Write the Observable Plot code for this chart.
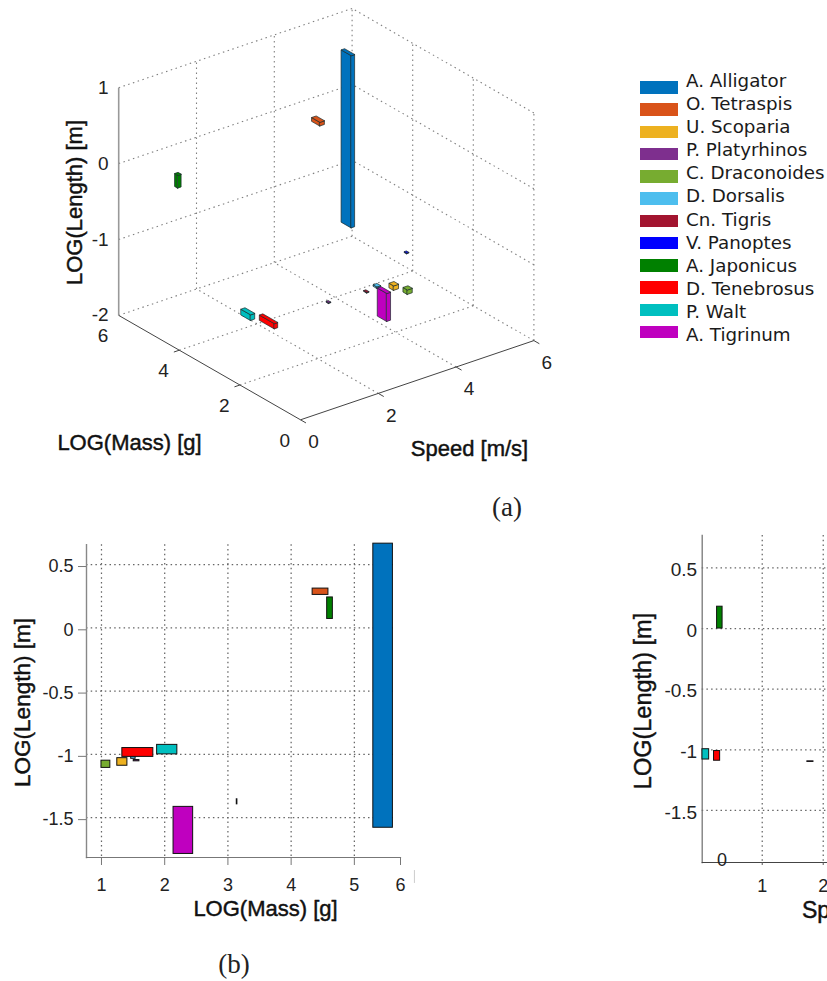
<!DOCTYPE html>
<html><head><meta charset="utf-8">
<script src="https://cdn.jsdelivr.net/npm/d3@7"></script>
<script src="https://cdn.jsdelivr.net/npm/@observablehq/plot@0.6"></script>
<style>
html,body{margin:0;padding:0;background:#fff;overflow:hidden}
#page{position:relative;width:827px;height:981px;overflow:hidden;color:#111}
#page svg{position:absolute;background:transparent}
.sw{position:absolute;left:639.5px;width:38px;height:12.5px}
.lg{position:absolute;left:686px;font:18.3px "DejaVu Sans";line-height:20px;white-space:nowrap;color:#1a1a1a}
.cap{position:absolute;font:27px "Liberation Serif";color:#222;transform:translate(-50%,-50%)}
</style></head><body><div id="page"></div>
<script>
const species = ["A. Alligator","O. Tetraspis","U. Scoparia","P. Platyrhinos","C. Draconoides","D. Dorsalis","Cn. Tigris","V. Panoptes","A. Japonicus","D. Tenebrosus","P. Walt","A. Tigrinum"];
const colors = ["#0072BD","#D95319","#EDB120","#7E2F8E","#77AC30","#4DBEEE","#A2142F","#0000FF","#008000","#FF0000","#00BFBF","#BF00BF"];

// Panel (a): 3D boxes
const massLow   = [5.16,4.18,1.04,1.39,0.78,1.21,1.30,3.05,4.39,0.92,1.46,1.92];
const massHigh  = [5.49,4.45,1.19,1.47,0.92,1.33,1.40,3.13,4.49,1.41,1.78,2.23];
const speedLow  = [5.32,3.75,3.20,1.80,3.35,2.90,2.71,5.10,0.26,0.04,-0.15,3.71];
const speedHigh = [5.41,3.87,3.33,1.86,3.48,3.00,2.77,5.16,0.35,0.13,-0.04,3.81];
const lengthLow = [-1.58,0.26,-1.09,-1.10,-1.11,-1.05,-1.10,-1.40,0.00,-1.02,-1.00,-1.79];
const lengthHigh= [0.69,0.31,-1.03,-1.09,-1.05,-1.03,-1.09,-1.39,0.17,-0.95,-0.925,-1.42];

const bMassLow   = [5.30,4.34,1.25,1.51,1.00,1.47,null,3.14,4.57,1.33,1.88,2.14];
const bMassHigh  = [5.61,4.59,1.41,1.60,1.14,1.54,null,3.15,4.66,1.82,2.20,2.45];
const bLengthLow = [-1.58,0.26,-1.09,-1.055,-1.107,-1.035,null,-1.395,0.07,-1.02,-1.00,-1.787];
const bLengthHigh= [0.665,0.31,-1.03,-1.045,-1.05,-1.01,null,-1.355,0.24,-0.95,-0.925,-1.415];

// Panel (c): speed vs length, only the part inside the crop
const cSpecies   = ["A. Japonicus","D. Tenebrosus","P. Walt","P. Platyrhinos"];
const cSpeedLow  = [0.26,0.21,0.02,1.74];
const cSpeedHigh = [0.35,0.31,0.13,1.84];
const cLengthLow = [0,-1.09,-1.08,-1.10];
const cLengthHigh= [0.18,-1.01,-0.995,-1.095];

const spaceTicks = [0,2,4,6];
const lengthTicks = [-2,-1,0,1];
const bLengthTicks = [-1.5,-1,-0.5,0,0.5];
const bMassTicks = [1,2,3,4,5,5.73];       // the picture's last tick sits at the cropped axis end
const bMassTickLabels = ["1","2","3","4","5","6"];
const cSpeedTicks = [1,2];

const sansFont = "Liberation Sans";
const grid3dStyle = {stroke:"#808080",strokeWidth:1.1,strokeDasharray:"1.5,3.5"};
const gridStyle = {stroke:"#666",strokeWidth:1.25,strokeDasharray:"1.5,3.2"};
const labelStyle = {fontSize:22,fontFamily:sansFont,fill:"#111",stroke:"#111",strokeWidth:0.45};
const page = document.getElementById("page");
const colorOf = Object.fromEntries(species.map((s,i)=>[s,colors[i]]));

// ---------- oblique projection for panel (a)
const P = (m,s,l)=>({x: 38.9*s-30.3*m, y: 13.2*s+17.4*m+75.9*(l+2)});
const seg = (a,b)=>{const p=P(...a),q=P(...b);return {x1:p.x,y1:p.y,x2:q.x,y2:q.y};};

const grid3d = [];
for (const s of [2,4,6]) grid3d.push(seg([0,s,-2],[6,s,-2]));
for (const m of [2,4,6]) grid3d.push(seg([m,0,-2],[m,6,-2]));
for (const s of [2,4,6]) grid3d.push(seg([6,s,-2],[6,s,1]));
for (const m of [0,2,4]) grid3d.push(seg([m,6,-2],[m,6,1]));
for (const l of [-1,0,1]) { grid3d.push(seg([6,0,l],[6,6,l])); grid3d.push(seg([0,6,l],[6,6,l])); }
const axes3d = [seg([0,0,-2],[0,6,-2]), seg([0,0,-2],[6,0,-2])];
const ticks3d = [
  ...[0,2,4,6].map(s=>seg([0,s,-2],[-0.18,s,-2])),
  ...[2,4].map(m=>seg([m,0,-2],[m,-0.14,-2]))
];
const faces=[];
species.forEach((sp,i)=>{
  const [m0,m1,s0,s1,l0,l1]=[massLow[i],massHigh[i],speedLow[i],speedHigh[i],lengthLow[i],lengthHigh[i]];
  const quads=[
    [[m0,s0,l0],[m1,s0,l0],[m1,s0,l1],[m0,s0,l1]],
    [[m0,s0,l0],[m0,s1,l0],[m0,s1,l1],[m0,s0,l1]],
    [[m0,s0,l1],[m1,s0,l1],[m1,s1,l1],[m0,s1,l1]]
  ];
  quads.forEach((q,k)=>q.forEach(c=>faces.push({id:i+"-"+k,c:colors[i],...P(...c)})));
});
const tickText=(vals,fn,txt=String)=>vals.map(v=>({...fn(v),t:txt(v)}));
const massText=tickText(spaceTicks,m=>P(m,0,-2));
const speedText=tickText(spaceTicks,s=>P(0,s,-2));
const lenText=tickText(lengthTicks,l=>P(6,0,l));

const a = Plot.plot({
  width:827,height:480,margin:0,
  x:{domain:[-300,527],axis:null},
  y:{domain:[-60.7,419.3],axis:null},
  color:{type:"identity"},
  marks:[
    Plot.link(grid3d,{x1:"x1",y1:"y1",x2:"x2",y2:"y2",...grid3dStyle}),
    Plot.link(axes3d,{x1:"x1",y1:"y1",x2:"x2",y2:"y2",stroke:"#444",strokeWidth:1}),
    Plot.link(ticks3d,{x1:"x1",y1:"y1",x2:"x2",y2:"y2",stroke:"#444",strokeWidth:1}),
    Plot.link([seg([6,0,-2],[6,0,1])],{x1:"x1",y1:"y1",x2:"x2",y2:"y2",stroke:"#999",strokeWidth:1.6}),
    Plot.line(faces,{x:"x",y:"y",z:"id",fill:"c",stroke:"#1a2a2a",strokeWidth:0.7,curve:"linear-closed"}),
    Plot.text(massText,{x:"x",y:"y",text:"t",dx:-15.7,dy:20.7,fontSize:19,fontFamily:sansFont,fill:"#222"}),
    Plot.text(speedText,{x:"x",y:"y",text:"t",dx:13,dy:22.4,fontSize:19,fontFamily:sansFont,fill:"#222"}),
    Plot.text(lenText,{x:"x",y:"y",text:"t",dx:-10,dy:0,textAnchor:"end",fontSize:19,fontFamily:sansFont,fill:"#222"}),
    Plot.text(["LOG(Mass) [g]"],{frameAnchor:"top-left",dx:129,dy:442,textAnchor:"middle",lineAnchor:"middle",...labelStyle}),
    Plot.text(["Speed [m/s]"],{frameAnchor:"top-left",dx:469,dy:448,textAnchor:"middle",lineAnchor:"middle",...labelStyle}),
    Plot.text(["LOG(Length) [m]"],{frameAnchor:"top-left",dx:74,dy:202,rotate:-90,textAnchor:"middle",lineAnchor:"middle",...labelStyle})
  ]
});
a.style.left="0";a.style.top="0";page.append(a);

// ---------- panel (b)
const bRows = species.map((s,i)=>({s,x1:bMassLow[i],x2:bMassHigh[i],y1:bLengthLow[i],y2:bLengthHigh[i],c:colors[i]})).filter(d=>d.x1!=null);
const b = Plot.plot({
  width:420,height:451,marginLeft:86,marginRight:20,marginTop:14.3,marginBottom:124,
  x:{domain:[0.763,5.73],axis:null},
  y:{domain:[-1.815,0.656],axis:null},
  color:{type:"identity"},
  marks:[
    Plot.ruleX(bMassTicks.slice(0,5),{...gridStyle}),
    Plot.ruleY(bLengthTicks,{x1:0.763,x2:5.65,...gridStyle}),
    Plot.frame({anchor:"left",stroke:"#888",strokeWidth:1.4}),
    Plot.frame({anchor:"bottom",stroke:"#777",strokeWidth:1.2}),
    Plot.axisX({ticks:bMassTicks,tickFormat:(d,i)=>bMassTickLabels[i],tickSize:8,tickPadding:13,stroke:"#777",fontSize:18,fontFamily:sansFont,fill:"#222",label:null}),
    Plot.axisY({ticks:bLengthTicks,tickFormat:String,tickSize:8,tickPadding:5,stroke:"#777",fontSize:18,fontFamily:sansFont,fill:"#222",label:null,dy:2}),
    Plot.rect(bRows,{x1:"x1",x2:"x2",y1:"y1",y2:"y2",fill:"c",stroke:"#111",strokeWidth:1}),
    Plot.ruleX([5.95],{y1:-1.918,y2:-2.02,stroke:"#ccc"}),
    Plot.text(["LOG(Mass) [g]"],{frameAnchor:"top-left",dx:265-86,dy:378-14.3,textAnchor:"middle",lineAnchor:"middle",...labelStyle}),
    Plot.text(["LOG(Length) [m]"],{frameAnchor:"top-left",dx:22.5-86,dy:172-14.3,rotate:-90,textAnchor:"middle",lineAnchor:"middle",...labelStyle,fontSize:22.5})
  ]
});
b.style.left="0";b.style.top="530px";page.append(b);

// ---------- panel (c)
const cRows = cSpecies.map((s,i)=>({s,x1:cSpeedLow[i],x2:cSpeedHigh[i],y1:cLengthLow[i],y2:cLengthHigh[i],c:colorOf[s]}));
const c = Plot.plot({
  width:207,height:420,marginLeft:81.7,marginRight:0,marginTop:15,marginBottom:78,
  x:{domain:[0.016,2.07],axis:null},
  y:{domain:[-1.929,0.767],axis:null},
  color:{type:"identity"},
  marks:[
    Plot.ruleX(cSpeedTicks,{...gridStyle}),
    Plot.ruleY(bLengthTicks,{...gridStyle}),
    Plot.frame({anchor:"left",stroke:"#777",strokeWidth:1.3}),
    Plot.frame({anchor:"bottom",stroke:"#444",strokeWidth:1.1}),
    Plot.axisX({ticks:cSpeedTicks,tickFormat:String,tickSize:3,tickPadding:14,stroke:"#555",fontSize:18,fontFamily:sansFont,fill:"#222",label:null}),
    Plot.axisY({ticks:bLengthTicks,tickFormat:String,tickSize:0,tickPadding:5,fontSize:19,fontFamily:sansFont,fill:"#222",label:null,dy:2}),
    Plot.rect(cRows,{x1:"x1",x2:"x2",y1:"y1",y2:"y2",fill:"c",stroke:"#111",strokeWidth:1}),
    Plot.text(["0"],{frameAnchor:"top-left",dx:101.5-81.7,dy:340-15,textAnchor:"middle",lineAnchor:"middle",fontSize:18,fontFamily:sansFont,fill:"#222"}),
    Plot.text(["Speed [m/s]"],{frameAnchor:"top-left",dx:181.5-81.7,dy:390-15,textAnchor:"start",lineAnchor:"middle",...labelStyle,fontSize:23}),
    Plot.text(["LOG(Length) [m]"],{frameAnchor:"top-left",dx:23-81.7,dy:180.5-15,rotate:-90,textAnchor:"middle",lineAnchor:"middle",...labelStyle,fontSize:23.5})
  ]
});
c.style.left="620px";c.style.top="520px";page.append(c);

// ---------- legend and sub-captions
species.forEach((s,i)=>{
  const w=document.createElement("div");w.className="sw";w.style.top=(81+i*22.27)+"px";w.style.background=colors[i];page.append(w);
  const t=document.createElement("div");t.className="lg";t.textContent=s;t.style.top=(71+i*23.09)+"px";page.append(t);
});
[["(a)",507,507],["(b)",234,964]].forEach(([txt,x,y])=>{
  const e=document.createElement("div");e.className="cap";e.textContent=txt;e.style.left=x+"px";e.style.top=y+"px";page.append(e);
});
</script></body></html>
